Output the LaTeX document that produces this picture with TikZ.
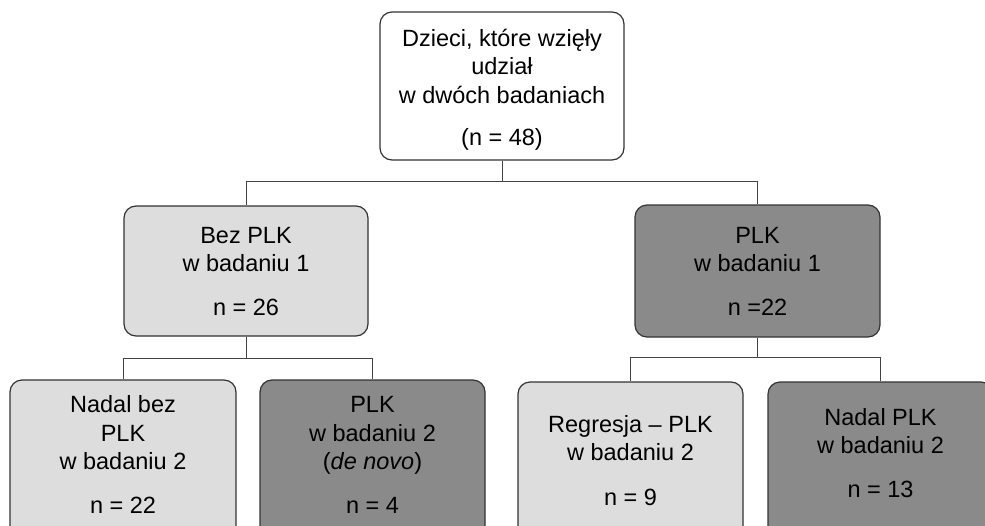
\documentclass[tikz,border=0pt]{standalone}
\usepackage{fontspec}
\setmainfont{Liberation Sans}
\definecolor{lightbox}{HTML}{DDDDDD}
\definecolor{darkbox}{HTML}{8A8A8A}
\definecolor{edge}{HTML}{333333}
\definecolor{conn}{HTML}{444444}
\tikzset{
  box/.style={draw=edge, line width=1.2pt, rounded corners=12pt, inner sep=0pt},
  lightbx/.style={box, fill=lightbox},
  darkbx/.style={box, fill=darkbox},
  whitebx/.style={box, fill=white},
  txt/.style={anchor=base, align=center, inner sep=0pt, font=\fontsize{23.5}{28.5}\selectfont},
  conline/.style={draw=conn, line width=1pt}
}
\begin{document}
\begin{tikzpicture}[x=1pt,y=-1pt]
\useasboundingbox (0,0) rectangle (985,525);
\clip (0,0) rectangle (985,525);
% boxes
\node[whitebx, minimum width=244pt, minimum height=148pt] (top) at (502,86) {};
\node[lightbx, minimum width=244pt, minimum height=130pt] (L1) at (246,271) {};
\node[darkbx, minimum width=245pt, minimum height=132pt] (R1) at (757.5,271) {};
\node[lightbx, minimum width=226pt, minimum height=160pt] (LL) at (123,460) {};
\node[darkbx, minimum width=225pt, minimum height=160pt] (LR) at (372.5,460) {};
\node[lightbx, minimum width=225pt, minimum height=160pt] (RL) at (630.5,462) {};
\node[darkbx, minimum width=225pt, minimum height=160pt] (RR) at (880.5,462) {};
% texts (base = baseline of last line)
\node[txt] (toptext) at (502,145.5) {Dzieci, które wzięły\\udział\\w dwóch badaniach\\[14pt](n = 48)};
\node[txt] (L1text) at (246,315) {Bez PLK\\w badaniu 1\\[15pt]n = 26};
\node[txt] (R1text) at (757.5,315) {PLK\\w badaniu 1\\[15pt]n =22};
\node[txt] (LLtext) at (123,513) {Nadal bez\\PLK\\w badaniu 2\\[15pt]n = 22};
\node[txt] (LRtext) at (372.5,513) {PLK\\w badaniu 2\\(\textit{de novo})\\[15pt]n = 4};
\node[txt] (RLtext) at (630.5,505) {Regresja – PLK\\w badaniu 2\\[16pt]n = 9};
\node[txt] (RRtext) at (880.5,497) {Nadal PLK\\w badaniu 2\\[15pt]n = 13};
% connectors
\draw[conline] (top.south) -- ++(0,21) -| (L1.north);
\draw[conline] (top.south) -- ++(0,21) -| (R1.north);
\draw[conline] (L1.south) -- ++(0,22) -| (LL.north);
\draw[conline] (L1.south) -- ++(0,22) -| (LR.north);
\draw[conline] (R1.south) -- ++(0,20) -| (RL.north);
\draw[conline] (R1.south) -- ++(0,20) -| (RR.north);
\end{tikzpicture}
\end{document}
